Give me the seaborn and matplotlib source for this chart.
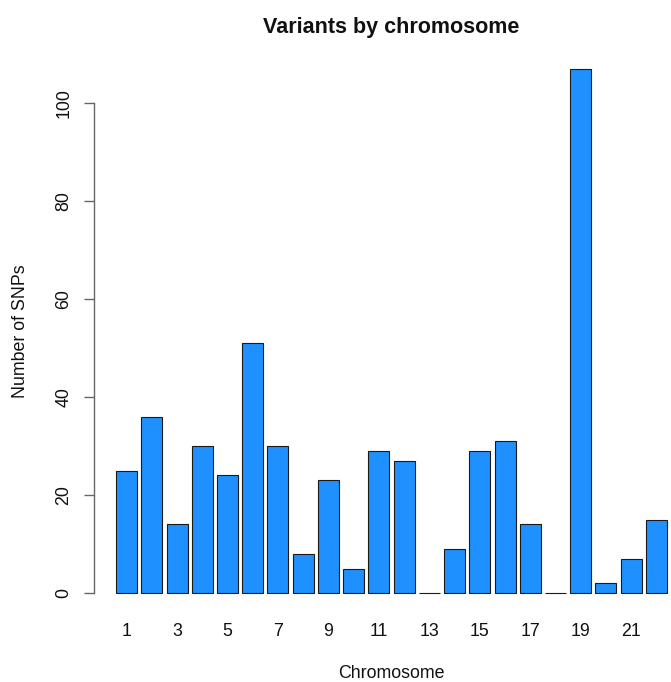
import matplotlib
matplotlib.use("Agg")
import matplotlib.pyplot as plt
import seaborn as sns
import pandas as pd

chromosomes = [str(i) for i in range(1, 23)]
snp_counts = [25, 36, 14, 30, 24, 51, 30, 8, 23, 5, 29, 27, 0, 9, 29, 31, 14, 0, 107, 2, 7, 15]
shown_tick_labels = [str(i) for i in range(1, 22, 2)]
y_ticks = [0, 20, 40, 60, 80, 100]

sns.set_style("white")
plt.rcParams['font.family'] = ['Liberation Sans', 'DejaVu Sans']

df = pd.DataFrame({"Chromosome": chromosomes, "SNPs": snp_counts})

fig = plt.figure(figsize=(6.71, 6.82), dpi=100)
W, H = 671, 682
left_px, right_px = 94, 689
top_px, bottom_px = 47.7, 614
ax = fig.add_axes([left_px / W, (H - bottom_px) / H, (right_px - left_px) / W, (bottom_px - top_px) / H])

sns.barplot(data=df, x="Chromosome", y="SNPs", order=chromosomes, color="#1E90FF",
            saturation=1, width=1 / 1.2, edgecolor="#1a1a1a", linewidth=0.8, ax=ax, errorbar=None)

ax.set_xlim(-1.29, 22.29)
ax.set_ylim(-4.28, 111.28)

for s in ["top", "right", "bottom"]:
    ax.spines[s].set_visible(False)
ax.spines["left"].set_bounds(0, 100)
ax.spines["left"].set_color("#666666")
ax.spines["left"].set_linewidth(1.0)

ax.set_yticks(y_ticks)
ax.set_yticklabels([str(v) for v in y_ticks], rotation=90, va="center", fontsize=12.8, color="#111111")
ax.tick_params(axis="y", length=7.5, width=1.0, color="#666666", pad=8, left=True, direction="out")

pos = [chromosomes.index(c) for c in shown_tick_labels]
ax.set_xticks(pos)
ax.set_xticklabels(shown_tick_labels, fontsize=12.8, color="#111111")
ax.tick_params(axis="x", length=0, pad=6.5)

ax.set_title("Variants by chromosome", fontsize=15.5, fontweight="bold", pad=10.5, color="#111111")
ax.set_xlabel("Chromosome", fontsize=12.8, color="#111111")
ax.set_ylabel("Number of SNPs", fontsize=12.8, color="#111111")
ax.xaxis.set_label_coords(0.5, (bottom_px - 665) / (bottom_px - top_px))
ax.yaxis.set_label_coords((29 - left_px) / (right_px - left_px), 0.5)

fig.savefig("out.png", dpi=100)
